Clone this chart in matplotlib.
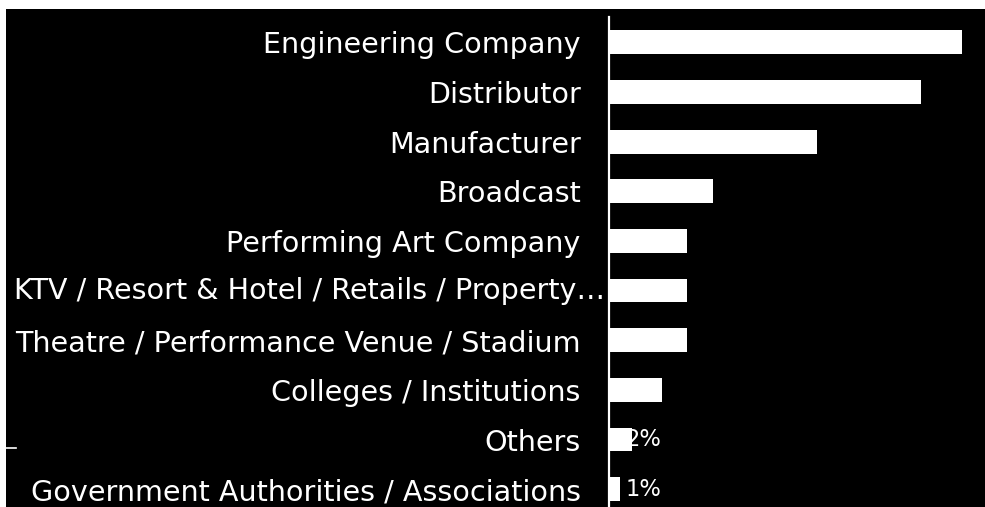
import matplotlib
matplotlib.use('Agg')
import matplotlib.pyplot as plt
from matplotlib.patches import Rectangle
from matplotlib.lines import Line2D
import matplotlib.transforms as mtransforms

categories = ['Engineering Company', 'Distributor', 'Manufacturer', 'Broadcast',
              'Performing Art Company', 'KTV / Resort & Hotel / Retails / Property\u2026',
              'Theatre / Performance Venue / Stadium', 'Colleges / Institutions',
              'Others', 'Government Authorities / Associations']
values = [34, 30, 20, 10, 7.5, 7.5, 7.5, 5.1, 2.3, 1.1]
value_labels = ['%d%%' % round(v) for v in values]

W, H = 985, 507
fig = plt.figure(figsize=(W / 100, H / 100), dpi=100, facecolor='white')
# black panel (thin white strip stays at the top and left edge)
fig.patches.append(Rectangle((6 / W, 0), 1, (H - 9) / H, transform=fig.transFigure,
                             facecolor='black', edgecolor='none', zorder=-10))

ax = fig.add_axes([608.5 / W, -7 / H, (W - 608.5) / W, 496.5 / H])
ax.set_facecolor('black')

y = list(range(len(categories)))
ax.barh(y, values, height=0.48, color='white', zorder=2)
ax.set_ylim(len(categories) - 0.5, -0.5)
ax.set_xlim(0, 36.2)

ticklabels = [c if not c.startswith('KTV') else '' for c in categories]
ax.set_yticks(y)
ax.set_yticklabels(ticklabels, color='white', fontsize=20.6, family='DejaVu Sans')
ax.tick_params(axis='y', length=0, pad=20)
ax.set_xticks([])

# the long label is cut off and starts at the left edge
trans = mtransforms.blended_transform_factory(fig.transFigure, ax.transData)
ax.text(14 / W, 5, categories[5], transform=trans,
        ha='left', va='center', color='white', fontsize=20.6, family='DejaVu Sans',
        clip_on=False)

for i, lab in enumerate(value_labels):
    ax.annotate(lab, (0, i), xytext=(12.2, 0), textcoords='offset points',
                ha='left', va='center', color='white', fontsize=16.3,
                family='DejaVu Sans', zorder=3)

for side in ['top', 'right', 'bottom']:
    ax.spines[side].set_visible(False)
ax.spines['left'].set_color('white')
ax.spines['left'].set_linewidth(1.6)

fig.lines.append(Line2D([6 / W, 16 / W], [(H - 448) / H] * 2, transform=fig.transFigure,
                        color='white', linewidth=1.2))

fig.savefig('out.png', dpi=100, facecolor=fig.get_facecolor())
